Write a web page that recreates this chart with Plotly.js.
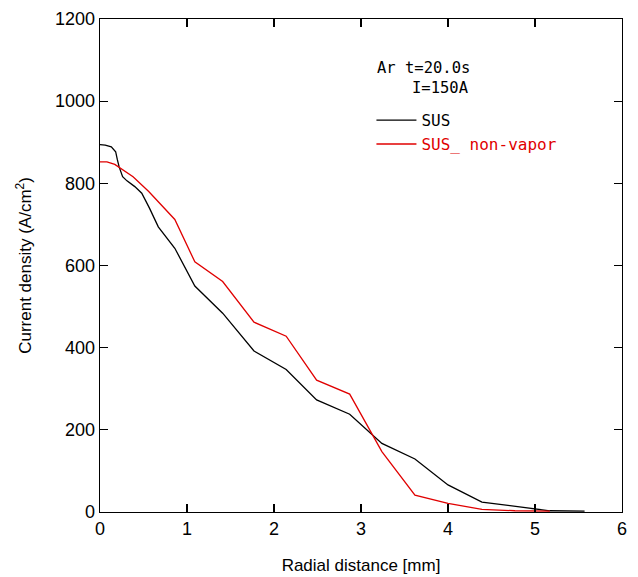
<!DOCTYPE html>
<html>
<head>
<meta charset="utf-8">
<script src="https://cdn.plot.ly/plotly-3.0.1.min.js"></script>
<style>html,body{margin:0;padding:0;background:#fff}</style>
</head>
<body>
<div id="chart" style="width:638px;height:577px"></div>
<script>
const susX = [0, 0.06, 0.13, 0.18, 0.2, 0.22, 0.26, 0.31, 0.40, 0.48, 0.57, 0.67, 0.86, 1.09, 1.41, 1.77, 2.14, 2.49, 2.87, 3.24, 3.62, 4.0, 4.39, 4.77, 4.98, 5.17, 5.57];
const susY = [894, 893, 889, 877, 857, 840, 816, 806, 792, 776, 739, 694, 642, 550, 484, 392, 347, 273, 238, 167, 129, 66, 24, 13, 7, 3, 2];
const nvX = [0, 0.08, 0.17, 0.27, 0.38, 0.56, 0.86, 1.09, 1.41, 1.77, 2.14, 2.49, 2.87, 3.24, 3.62, 4.0, 4.39, 4.77, 5.17];
const nvY = [852, 852, 846, 832, 816, 780, 712, 609, 561, 462, 428, 321, 287, 147, 41, 21, 6.5, 3, 2];
const seriesNames = ['SUS', 'SUS_ non-vapor'];
const xTitle = 'Radial distance [mm]';
const yTitle = 'Current density (A/cm<sup>2</sup>)';
const noteLines = ['Ar t=20.0s', 'I=150A'];

const mono = 'DejaVu Sans Mono, Liberation Mono, monospace';
const sans = 'Liberation Sans, Arial, sans-serif';
const traces = [
  {x: susX, y: susY, mode: 'lines', name: seriesNames[0], line: {color: '#000000', width: 1.3}},
  {x: nvX, y: nvY, mode: 'lines', name: '<span style="color:#e00000">' + seriesNames[1] + '</span>', line: {color: '#e00000', width: 1.3}}
];
const axisCommon = {
  showgrid: false, zeroline: false, showline: true, mirror: 'ticks',
  linecolor: '#000', linewidth: 1.3, ticks: 'inside', ticklen: 8, tickwidth: 1.3, tickcolor: '#000',
  tickfont: {family: sans, size: 18, color: '#000'}
};
const layout = {
  width: 638, height: 577,
  margin: {l: 100, r: 16, t: 19, b: 65},
  paper_bgcolor: '#fff', plot_bgcolor: '#fff',
  showlegend: true,
  legend: {x: 0.52, y: 0.829, xanchor: 'left', yanchor: 'top', bgcolor: 'rgba(0,0,0,0)',
           font: {family: mono, size: 16, color: '#000'}, tracegroupgap: 0, itemwidth: 40},
  xaxis: Object.assign({}, axisCommon, {range: [0, 6], dtick: 1,
    title: {text: xTitle, font: {family: sans, size: 17, color: '#000'}, standoff: 21}}),
  yaxis: Object.assign({}, axisCommon, {range: [0, 1200], dtick: 200,
    title: {text: yTitle, font: {family: sans, size: 17, color: '#000'}, standoff: 19}}),
  annotations: [
    {xref: 'paper', yref: 'paper', x: 0.527, y: 0.900, xanchor: 'left', yanchor: 'middle', showarrow: false,
     text: noteLines[0], font: {family: mono, size: 15.5, color: '#000'}},
    {xref: 'paper', yref: 'paper', x: 0.594, y: 0.860, xanchor: 'left', yanchor: 'middle', showarrow: false,
     text: noteLines[1], font: {family: mono, size: 15.5, color: '#000'}}
  ]
};
Plotly.newPlot('chart', traces, layout, {staticPlot: true});
</script>
</body>
</html>
